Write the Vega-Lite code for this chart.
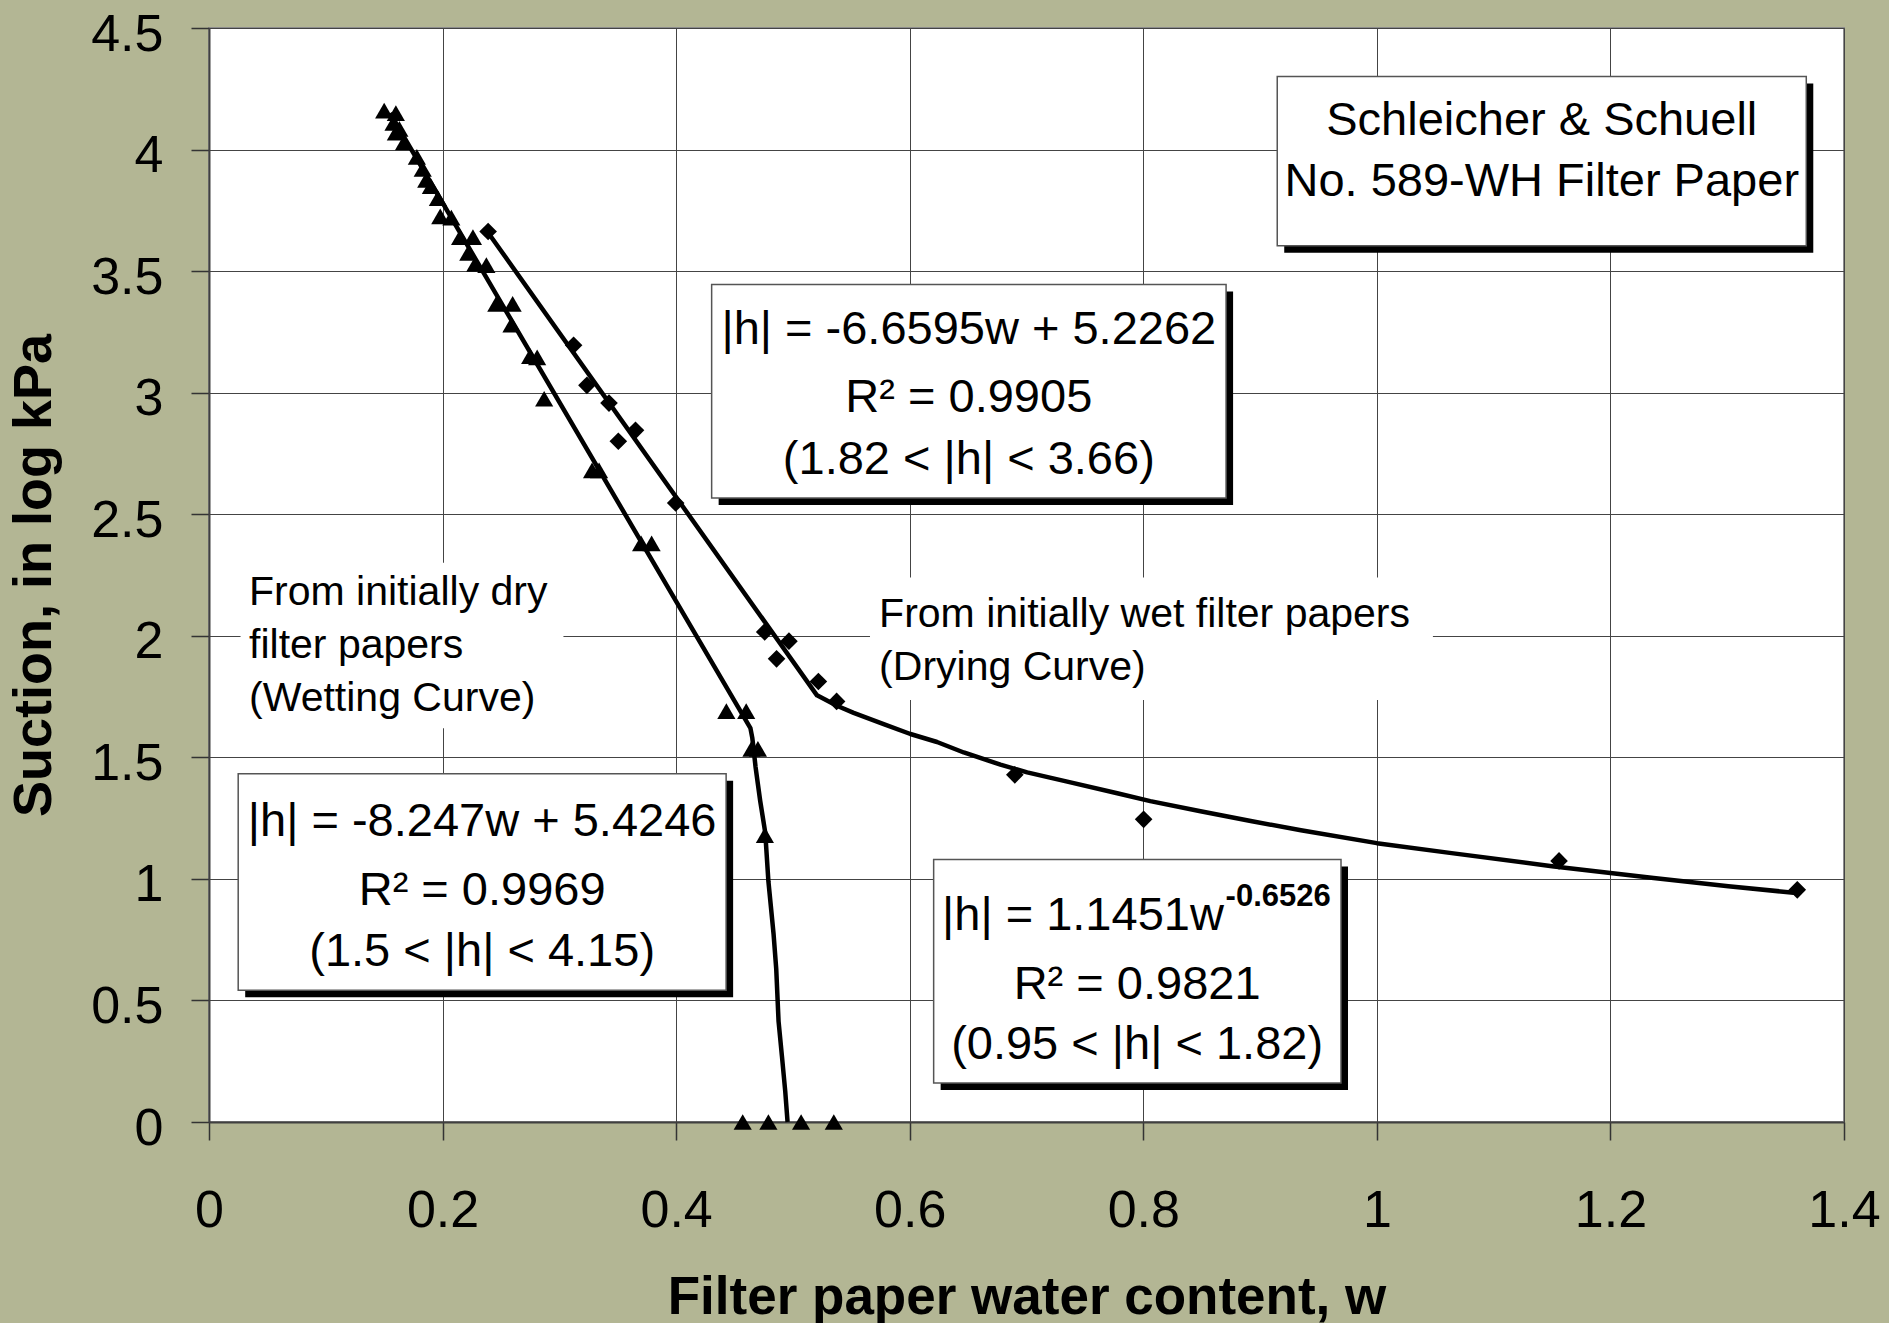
{
  "$schema": "https://vega.github.io/schema/vega-lite/v6.json",
  "width": 1635,
  "height": 1094,
  "autosize": {"type": "none"},
  "padding": {"left": 209, "top": 28, "right": 45, "bottom": 201},
  "background": "#b3b694",
  "config": {
    "font": "Liberation Sans",
    "view": {"fill": "white", "stroke": "#8c8c8c", "strokeWidth": 2}
  },
  "datasets": {
    "wetting": [
      {"w": 0.150, "h": 4.16}, {"w": 0.160, "h": 4.15}, {"w": 0.158, "h": 4.11}, {"w": 0.163, "h": 4.085},
      {"w": 0.160, "h": 4.07}, {"w": 0.167, "h": 4.03}, {"w": 0.178, "h": 3.97}, {"w": 0.183, "h": 3.92},
      {"w": 0.186, "h": 3.875}, {"w": 0.190, "h": 3.85}, {"w": 0.196, "h": 3.80}, {"w": 0.198, "h": 3.725},
      {"w": 0.2075, "h": 3.72}, {"w": 0.215, "h": 3.64}, {"w": 0.226, "h": 3.64}, {"w": 0.222, "h": 3.575},
      {"w": 0.228, "h": 3.53}, {"w": 0.2375, "h": 3.525}, {"w": 0.246, "h": 3.365}, {"w": 0.260, "h": 3.365},
      {"w": 0.259, "h": 3.28}, {"w": 0.275, "h": 3.15}, {"w": 0.281, "h": 3.145}, {"w": 0.287, "h": 2.975},
      {"w": 0.328, "h": 2.68}, {"w": 0.334, "h": 2.68}, {"w": 0.370, "h": 2.38}, {"w": 0.379, "h": 2.38},
      {"w": 0.443, "h": 1.69}, {"w": 0.460, "h": 1.69}, {"w": 0.4645, "h": 1.535}, {"w": 0.470, "h": 1.535},
      {"w": 0.476, "h": 1.18}, {"w": 0.457, "h": 0}, {"w": 0.479, "h": 0}, {"w": 0.507, "h": 0}, {"w": 0.535, "h": 0}
    ],
    "drying": [
      {"w": 0.2390, "h": 3.663}, {"w": 0.3122, "h": 3.195}, {"w": 0.3236, "h": 3.03}, {"w": 0.3425, "h": 2.957},
      {"w": 0.3505, "h": 2.80}, {"w": 0.3652, "h": 2.845}, {"w": 0.3996, "h": 2.546}, {"w": 0.4758, "h": 2.016},
      {"w": 0.4860, "h": 1.905}, {"w": 0.4966, "h": 1.978}, {"w": 0.5218, "h": 1.812}, {"w": 0.5374, "h": 1.730},
      {"w": 0.6900, "h": 1.428}, {"w": 0.8003, "h": 1.245}, {"w": 1.1560, "h": 1.074}, {"w": 1.3600, "h": 0.955}
    ],
    "fits": [
      {"curve": "wetting", "w": 0.155, "h": 4.15}, {"curve": "wetting", "w": 0.4636, "h": 1.62},
      {"curve": "wetting", "w": 0.4652, "h": 1.58}, {"curve": "wetting", "w": 0.4662, "h": 1.54},
      {"curve": "wetting", "w": 0.468, "h": 1.46}, {"curve": "wetting", "w": 0.470, "h": 1.39},
      {"curve": "wetting", "w": 0.472, "h": 1.32}, {"curve": "wetting", "w": 0.4763, "h": 1.19},
      {"curve": "wetting", "w": 0.479, "h": 0.99}, {"curve": "wetting", "w": 0.4834, "h": 0.774},
      {"curve": "wetting", "w": 0.4857, "h": 0.63}, {"curve": "wetting", "w": 0.4877, "h": 0.414},
      {"curve": "wetting", "w": 0.4906, "h": 0.27}, {"curve": "wetting", "w": 0.4934, "h": 0.127},
      {"curve": "wetting", "w": 0.4954, "h": 0},
      {"curve": "drying", "w": 0.2395, "h": 3.655}, {"curve": "drying", "w": 0.5206, "h": 1.755},
      {"curve": "drying", "w": 0.5377, "h": 1.712}, {"curve": "drying", "w": 0.552, "h": 1.683},
      {"curve": "drying", "w": 0.5777, "h": 1.637}, {"curve": "drying", "w": 0.6006, "h": 1.596},
      {"curve": "drying", "w": 0.6234, "h": 1.563}, {"curve": "drying", "w": 0.6463, "h": 1.520},
      {"curve": "drying", "w": 0.6777, "h": 1.470}, {"curve": "drying", "w": 0.7006, "h": 1.438},
      {"curve": "drying", "w": 0.7349, "h": 1.400}, {"curve": "drying", "w": 0.7777, "h": 1.352},
      {"curve": "drying", "w": 0.806, "h": 1.320}, {"curve": "drying", "w": 0.849, "h": 1.278},
      {"curve": "drying", "w": 0.892, "h": 1.238}, {"curve": "drying", "w": 0.935, "h": 1.200},
      {"curve": "drying", "w": 1.0, "h": 1.147}, {"curve": "drying", "w": 1.064, "h": 1.106},
      {"curve": "drying", "w": 1.15, "h": 1.052}, {"curve": "drying", "w": 1.237, "h": 1.004},
      {"curve": "drying", "w": 1.301, "h": 0.970}, {"curve": "drying", "w": 1.359, "h": 0.942}
    ],
    "noteBoxes": [
      {"w": 0.027, "w2": 0.3035, "h": 1.62, "h2": 2.30},
      {"w": 0.566, "w2": 1.048, "h": 1.736, "h2": 2.24}
    ],
    "eqBoxes": [
      {"w": 0.4304, "w2": 0.8709, "h": 2.567, "h2": 3.445},
      {"w": 0.025, "w2": 0.4428, "h": 0.542, "h2": 1.432},
      {"w": 0.6205, "w2": 0.9693, "h": 0.16, "h2": 1.08},
      {"w": 0.9147, "w2": 1.3677, "h": 3.604, "h2": 4.301}
    ],
    "eqText": [
      {"w": 0.6506, "h": 3.201, "text": "|h| = -6.6595w + 5.2262"},
      {"w": 0.6506, "h": 2.919, "text": "R² = 0.9905"},
      {"w": 0.6506, "h": 2.666, "text": "(1.82 < |h| < 3.66)"},
      {"w": 0.2339, "h": 1.175, "text": "|h| = -8.247w + 5.4246"},
      {"w": 0.2339, "h": 0.892, "text": "R² = 0.9969"},
      {"w": 0.2339, "h": 0.640, "text": "(1.5 < |h| < 4.15)"},
      {"w": 0.7947, "h": 0.506, "text": "R² = 0.9821"},
      {"w": 0.7947, "h": 0.258, "text": "(0.95 < |h| < 1.82)"},
      {"w": 1.1412, "h": 4.059, "text": "Schleicher & Schuell"},
      {"w": 1.1412, "h": 3.811, "text": "No. 589-WH Filter Paper"}
    ],
    "eqMain": [
      {"w": 0.869, "h": 0.788, "text": "|h| = 1.1451w"}
    ],
    "eqSup": [
      {"w": 0.8705, "h": 0.887, "text": "-0.6526"}
    ],
    "notes": [
      {"w": 0.0343, "h": 2.126, "text": "From initially dry"},
      {"w": 0.0343, "h": 1.908, "text": "filter papers"},
      {"w": 0.0343, "h": 1.690, "text": "(Wetting Curve)"},
      {"w": 0.5738, "h": 2.037, "text": "From initially wet filter papers"},
      {"w": 0.5738, "h": 1.819, "text": "(Drying Curve)"}
    ]
  },
  "layer": [
    {
      "data": {"name": "noteBoxes"},
      "mark": {"type": "rect", "fill": "white", "strokeWidth": 0},
      "encoding": {
        "x": {"field": "w", "type": "quantitative", "scale": {"domain": [0, 1.4], "nice": false, "zero": false},
          "axis": {
            "title": "Filter paper water content, w",
            "values": [0, 0.2, 0.4, 0.6, 0.8, 1, 1.2, 1.4],
            "format": "~g",
            "labelFont": "Liberation Sans", "labelFontSize": 52, "labelColor": "black",
            "labelBaseline": "alphabetic", "labelPadding": 86, "labelFlush": false, "labelOverlap": false,
            "tickSize": 18, "tickColor": "#333333", "tickWidth": 1.5,
            "domainColor": "#404040", "domainWidth": 2,
            "grid": true, "gridColor": "#444444", "gridWidth": 1, "gridOpacity": 1,
            "titleFont": "Liberation Sans", "titleFontSize": 53, "titleFontWeight": "bold", "titleColor": "black",
            "titleBaseline": "alphabetic", "titleY": 191
          }},
        "x2": {"field": "w2"},
        "y": {"field": "h", "type": "quantitative", "scale": {"domain": [0, 4.5], "nice": false, "zero": false},
          "axis": {
            "title": "Suction, in log kPa",
            "values": [0, 0.5, 1, 1.5, 2, 2.5, 3, 3.5, 4, 4.5],
            "format": "~g",
            "labelFont": "Liberation Sans", "labelFontSize": 52, "labelColor": "black",
            "labelBaseline": "alphabetic", "labelOffset": 22, "labelPadding": 28, "labelFlush": false, "labelOverlap": false,
            "tickSize": 18, "tickColor": "#333333", "tickWidth": 1.5,
            "domainColor": "#404040", "domainWidth": 2,
            "grid": true, "gridColor": "#444444", "gridWidth": 1, "gridOpacity": 1,
            "titleFont": "Liberation Sans", "titleFontSize": 54, "titleFontWeight": "bold", "titleColor": "black",
            "titleBaseline": "alphabetic", "titleX": -159
          }},
        "y2": {"field": "h2"}
      }
    },
    {
      "data": {"name": "fits"},
      "mark": {"type": "line", "color": "black", "strokeWidth": 4.5, "strokeJoin": "round"},
      "encoding": {
        "x": {"field": "w", "type": "quantitative", "scale": {"domain": [0, 1.4], "nice": false, "zero": false}},
        "y": {"field": "h", "type": "quantitative", "scale": {"domain": [0, 4.5], "nice": false, "zero": false}},
        "detail": {"field": "curve", "type": "nominal"}
      }
    },
    {
      "data": {"name": "wetting"},
      "mark": {"type": "point", "shape": "triangle-up", "filled": true, "color": "black", "size": 330, "opacity": 1},
      "encoding": {
        "x": {"field": "w", "type": "quantitative", "scale": {"domain": [0, 1.4], "nice": false, "zero": false}},
        "y": {"field": "h", "type": "quantitative", "scale": {"domain": [0, 4.5], "nice": false, "zero": false}}
      }
    },
    {
      "data": {"name": "drying"},
      "mark": {"type": "point", "shape": "diamond", "filled": true, "color": "black", "size": 310, "opacity": 1},
      "encoding": {
        "x": {"field": "w", "type": "quantitative", "scale": {"domain": [0, 1.4], "nice": false, "zero": false}},
        "y": {"field": "h", "type": "quantitative", "scale": {"domain": [0, 4.5], "nice": false, "zero": false}}
      }
    },
    {
      "data": {"name": "eqBoxes"},
      "mark": {"type": "rect", "fill": "black", "xOffset": 7, "x2Offset": 7, "yOffset": 7, "y2Offset": 7},
      "encoding": {
        "x": {"field": "w", "type": "quantitative", "scale": {"domain": [0, 1.4], "nice": false, "zero": false}},
        "x2": {"field": "w2"},
        "y": {"field": "h", "type": "quantitative", "scale": {"domain": [0, 4.5], "nice": false, "zero": false}},
        "y2": {"field": "h2"}
      }
    },
    {
      "data": {"name": "eqBoxes"},
      "mark": {"type": "rect", "fill": "white", "stroke": "#555555", "strokeWidth": 1.5},
      "encoding": {
        "x": {"field": "w", "type": "quantitative", "scale": {"domain": [0, 1.4], "nice": false, "zero": false}},
        "x2": {"field": "w2"},
        "y": {"field": "h", "type": "quantitative", "scale": {"domain": [0, 4.5], "nice": false, "zero": false}},
        "y2": {"field": "h2"}
      }
    },
    {
      "data": {"name": "eqText"},
      "mark": {"type": "text", "font": "Liberation Sans", "fontSize": 47, "color": "black", "align": "center", "baseline": "alphabetic"},
      "encoding": {
        "x": {"field": "w", "type": "quantitative", "scale": {"domain": [0, 1.4], "nice": false, "zero": false}},
        "y": {"field": "h", "type": "quantitative", "scale": {"domain": [0, 4.5], "nice": false, "zero": false}},
        "text": {"field": "text", "type": "nominal"}
      }
    },
    {
      "data": {"name": "eqMain"},
      "mark": {"type": "text", "font": "Liberation Sans", "fontSize": 47, "color": "black", "align": "right", "baseline": "alphabetic"},
      "encoding": {
        "x": {"field": "w", "type": "quantitative", "scale": {"domain": [0, 1.4], "nice": false, "zero": false}},
        "y": {"field": "h", "type": "quantitative", "scale": {"domain": [0, 4.5], "nice": false, "zero": false}},
        "text": {"field": "text", "type": "nominal"}
      }
    },
    {
      "data": {"name": "eqSup"},
      "mark": {"type": "text", "font": "Liberation Sans", "fontSize": 31, "fontWeight": "bold", "color": "black", "align": "left", "baseline": "alphabetic"},
      "encoding": {
        "x": {"field": "w", "type": "quantitative", "scale": {"domain": [0, 1.4], "nice": false, "zero": false}},
        "y": {"field": "h", "type": "quantitative", "scale": {"domain": [0, 4.5], "nice": false, "zero": false}},
        "text": {"field": "text", "type": "nominal"}
      }
    },
    {
      "data": {"name": "notes"},
      "mark": {"type": "text", "font": "Liberation Sans", "fontSize": 41, "color": "black", "align": "left", "baseline": "alphabetic"},
      "encoding": {
        "x": {"field": "w", "type": "quantitative", "scale": {"domain": [0, 1.4], "nice": false, "zero": false}},
        "y": {"field": "h", "type": "quantitative", "scale": {"domain": [0, 4.5], "nice": false, "zero": false}},
        "text": {"field": "text", "type": "nominal"}
      }
    }
  ]
}
